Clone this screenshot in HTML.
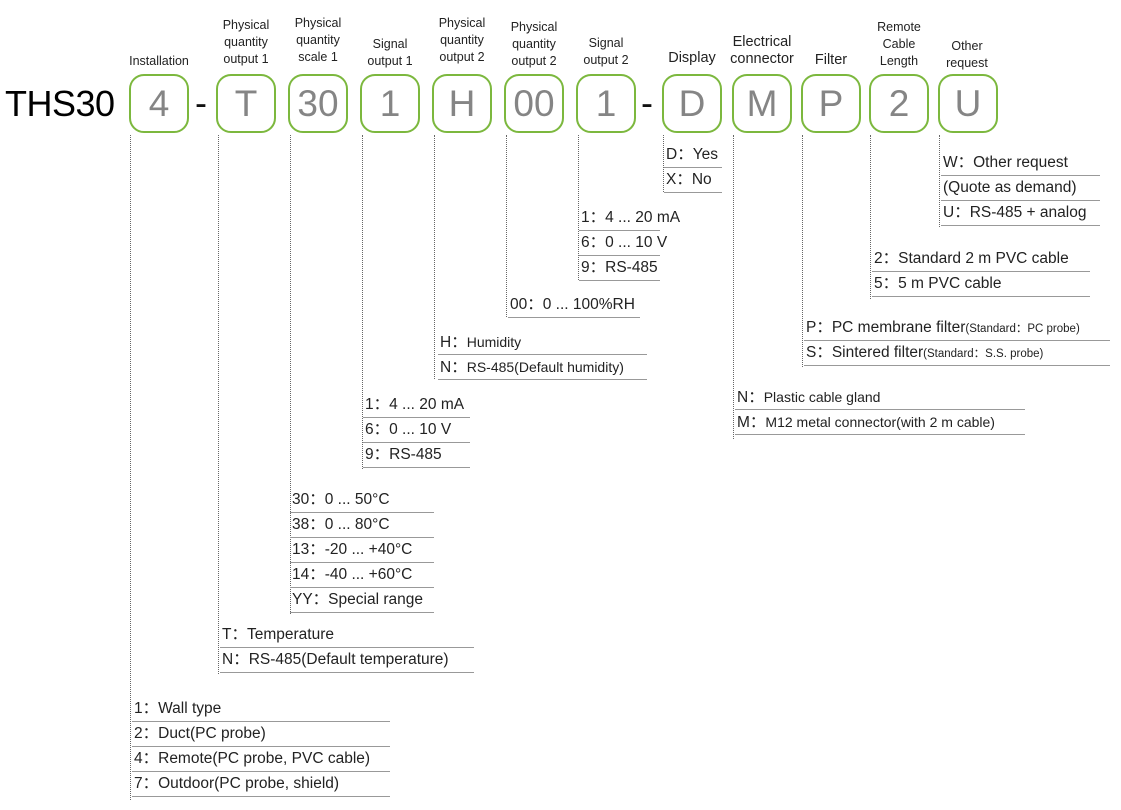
<!DOCTYPE html>
<html><head><meta charset="utf-8">
<style>
body{margin:0;width:1121px;height:810px;background:#fff;position:relative;overflow:hidden;font-family:"Liberation Sans","Noto Sans CJK SC",sans-serif;color:#222}
.box{position:absolute;top:74px;width:56px;height:55px;border:2.5px solid #7cb83e;border-radius:15px;text-align:center;line-height:55px;font-size:37px;color:#858585}
.hd{position:absolute;font-size:12.5px;line-height:17px;text-align:center;color:#222;width:90px}
.dash{position:absolute;font-size:36px;top:82px;color:#111}
.v{position:absolute;width:0;border-left:1.5px dotted #666;top:135px}
.l{position:absolute;font-size:15.5px;white-space:nowrap}
.l div{height:24px;line-height:24px;border-bottom:1px solid #999;padding-left:2px}
.s{font-size:14px}
.xs{font-size:11.5px}
</style></head><body>
<div style="position:absolute;left:5px;top:79px;font-size:36px;letter-spacing:-0.5px;line-height:50px;color:#000">THS30</div>

<div class="hd" style="left:114px;top:53px">Installation</div>
<div class="hd" style="left:201px;top:17px">Physical<br>quantity<br>output 1</div>
<div class="hd" style="left:273px;top:15px">Physical<br>quantity<br>scale 1</div>
<div class="hd" style="left:345px;top:36px">Signal<br>output 1</div>
<div class="hd" style="left:417px;top:15px">Physical<br>quantity<br>output 2</div>
<div class="hd" style="left:489px;top:19px">Physical<br>quantity<br>output 2</div>
<div class="hd" style="left:561px;top:35px">Signal<br>output 2</div>
<div class="hd" style="left:647px;top:50px;font-size:14.5px">Display</div>
<div class="hd" style="left:717px;top:34px;font-size:14.5px;line-height:17px">Electrical<br>connector</div>
<div class="hd" style="left:786px;top:52px;font-size:14.5px">Filter</div>
<div class="hd" style="left:854px;top:19px">Remote<br>Cable<br>Length</div>
<div class="hd" style="left:922px;top:38px">Other<br>request</div>

<div class="box" style="left:129px">4</div>
<div class="dash" style="left:195px">-</div>
<div class="box" style="left:216px">T</div>
<div class="box" style="left:288px">30</div>
<div class="box" style="left:360px">1</div>
<div class="box" style="left:432px">H</div>
<div class="box" style="left:504px">00</div>
<div class="box" style="left:576px">1</div>
<div class="dash" style="left:641px">-</div>
<div class="box" style="left:662px">D</div>
<div class="box" style="left:732px">M</div>
<div class="box" style="left:801px">P</div>
<div class="box" style="left:869px">2</div>
<div class="box" style="left:938px">U</div>

<div class="v" style="left:130px;height:665px"></div>
<div class="v" style="left:218px;height:539px"></div>
<div class="v" style="left:290px;height:479px"></div>
<div class="v" style="left:362px;height:334px"></div>
<div class="v" style="left:434px;height:244px"></div>
<div class="v" style="left:506px;height:182px"></div>
<div class="v" style="left:578px;height:145px"></div>
<div class="v" style="left:663px;height:57px"></div>
<div class="v" style="left:733px;height:304px"></div>
<div class="v" style="left:802px;height:232px"></div>
<div class="v" style="left:870px;height:164px"></div>
<div class="v" style="left:939px;height:92px"></div>

<div class="l" style="left:132px;top:697px;width:258px"><div>1：Wall type</div><div>2：Duct(PC probe)</div><div>4：Remote(PC probe, PVC cable)</div><div>7：Outdoor(PC probe, shield)</div></div>
<div class="l" style="left:220px;top:623px;width:254px"><div>T：Temperature</div><div>N：RS-485(Default temperature)</div></div>
<div class="l" style="left:290px;top:488px;width:144px"><div>30：0 ... 50°C</div><div>38：0 ... 80°C</div><div>13：-20 ... +40°C</div><div>14：-40 ... +60°C</div><div>YY：Special range</div></div>
<div class="l" style="left:363px;top:393px;width:107px"><div>1：4 ... 20 mA</div><div>6：0 ... 10 V</div><div>9：RS-485</div></div>
<div class="l" style="left:438px;top:330px;width:209px"><div>H：<span class="s">Humidity</span></div><div>N：<span class="s">RS-485(Default humidity)</span></div></div>
<div class="l" style="left:508px;top:293px;width:132px"><div>00：0 ... 100%RH</div></div>
<div class="l" style="left:579px;top:206px;width:81px"><div>1：4 ... 20 mA</div><div>6：0 ... 10 V</div><div>9：RS-485</div></div>
<div class="l" style="left:664px;top:143px;width:58px"><div>D：Yes</div><div>X：No</div></div>
<div class="l" style="left:735px;top:385px;width:290px"><div>N：<span class="s">Plastic cable gland</span></div><div>M：<span class="s">M12 metal connector(with 2 m cable)</span></div></div>
<div class="l" style="left:804px;top:316px;width:306px"><div>P：PC membrane filter<span class="xs">(Standard：PC probe)</span></div><div>S：Sintered filter<span class="xs">(Standard：S.S. probe)</span></div></div>
<div class="l" style="left:872px;top:247px;width:218px"><div>2：Standard 2 m PVC cable</div><div>5：5 m PVC cable</div></div>
<div class="l" style="left:941px;top:151px;width:159px"><div>W：Other request</div><div>(Quote as demand)</div><div>U：RS-485 + analog</div></div>
</body></html>
